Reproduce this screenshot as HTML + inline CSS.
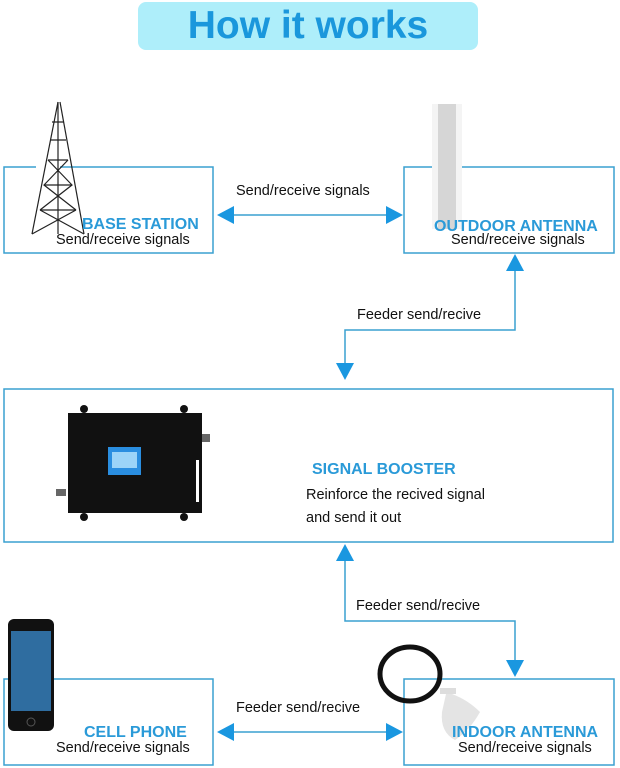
<!DOCTYPE html>
<html><head><meta charset="utf-8"><style>
body{margin:0;width:620px;height:768px;background:#fff;position:relative;overflow:hidden;font-family:"Liberation Sans",sans-serif}
.t{position:absolute;white-space:nowrap}
.bl{color:#2a9ad8;font-weight:bold;font-size:16px}
.bk{color:#111;font-size:14.5px}
</style></head><body>
<div style="position:absolute;left:138px;top:2px;width:340px;height:48px;background:#aeeefa;border-radius:8px"></div>
<div class="t" style="left:138px;top:2px;width:340px;text-align:center;font-size:39px;font-weight:bold;color:#1a97dc;line-height:48px">How it works</div>
<svg width="620" height="768" style="position:absolute;left:0;top:0">
<g fill="none" stroke="#3aa0d0" stroke-width="1.5">
<rect x="4" y="167" width="209" height="86"/>
<rect x="404" y="167" width="210" height="86"/>
<rect x="4" y="389" width="609" height="153"/>
<rect x="4" y="679" width="209" height="86"/>
<rect x="404" y="679" width="210" height="86"/>
<line x1="232" y1="215" x2="388" y2="215"/>
<polyline points="515,270 515,330 345,330 345,364"/>
<polyline points="345,558 345,621 515,621 515,662"/>
<line x1="232" y1="732" x2="388" y2="732"/>
</g>
<g fill="#1a97e0">
<polygon points="217,215 234,206 234,224"/>
<polygon points="403,215 386,206 386,224"/>
<polygon points="515,254 506,271 524,271"/>
<polygon points="345,380 336,363 354,363"/>
<polygon points="345,544 336,561 354,561"/>
<polygon points="515,677 506,660 524,660"/>
<polygon points="217,732 234,723 234,741"/>
<polygon points="403,732 386,723 386,741"/>
</g>
<!-- tower -->
<rect x="36" y="164" width="24" height="6" fill="#fff"/>
<g stroke="#222" stroke-width="1.2" fill="none">
<line x1="58" y1="102" x2="32" y2="234"/><line x1="60" y1="102" x2="84" y2="234"/>
<line x1="58" y1="102" x2="58" y2="234"/>
<path d="M48 160 L68 160 M44 185 L72 185 M40 210 L76 210 M50 140 L66 140 M52 122 L64 122"/>
<path d="M48 160 L72 185 L40 210 M68 160 L44 185 L76 210 M40 210 L84 234 M76 210 L32 234"/>
</g>
<!-- outdoor antenna -->
<rect x="432" y="104" width="30" height="125" fill="#f4f4f4"/>
<rect x="438" y="104" width="18" height="125" fill="#d6d6d6"/>
<!-- booster -->
<rect x="68" y="413" width="134" height="100" fill="#111"/>
<circle cx="84" cy="409" r="4" fill="#111"/><circle cx="184" cy="409" r="4" fill="#111"/>
<circle cx="84" cy="517" r="4" fill="#111"/><circle cx="184" cy="517" r="4" fill="#111"/>
<rect x="108" y="447" width="33" height="28" fill="#2a8ee0"/><rect x="112" y="452" width="25" height="16" fill="#9cd4f8"/>
<rect x="196" y="460" width="3" height="42" fill="#fff"/>
<rect x="202" y="434" width="8" height="8" fill="#666"/><rect x="56" y="489" width="10" height="7" fill="#666"/>
<!-- phone -->
<rect x="8" y="619" width="46" height="112" rx="6" fill="#111"/>
<rect x="11" y="631" width="40" height="80" fill="#2f6da0"/>
<circle cx="31" cy="722" r="4" fill="none" stroke="#555"/>
<!-- indoor antenna -->
<ellipse cx="410" cy="674" rx="30" ry="27" fill="none" stroke="#111" stroke-width="5"/>
<rect x="440" y="688" width="16" height="6" fill="#ddd"/>
<path d="M446 694 L452 694 Q468 700 480 712 Q470 730 455 740 Q440 732 442 712 Z" fill="#e4e4e4"/>
</svg>
<div class="t" style="left:236px;top:183px;font-size:14.5px;color:#111">Send/receive signals</div>
<div class="t bl" style="left:82px;top:216px">BASE STATION</div>
<div class="t bk" style="left:56px;top:232px">Send/receive signals</div>
<div class="t bl" style="left:434px;top:218px">OUTDOOR ANTENNA</div>
<div class="t bk" style="left:451px;top:232px">Send/receive signals</div>
<div class="t" style="left:357px;top:307px;font-size:14.5px;color:#111">Feeder send/recive</div>
<div class="t bl" style="left:312px;top:461px">SIGNAL BOOSTER</div>
<div class="t bk" style="left:306px;top:487px">Reinforce the recived signal</div>
<div class="t bk" style="left:306px;top:510px">and send it out</div>
<div class="t" style="left:356px;top:598px;font-size:14.5px;color:#111">Feeder send/recive</div>
<div class="t" style="left:236px;top:700px;font-size:14.5px;color:#111">Feeder send/recive</div>
<div class="t bl" style="left:84px;top:724px">CELL PHONE</div>
<div class="t bk" style="left:56px;top:740px">Send/receive signals</div>
<div class="t bl" style="left:452px;top:724px">INDOOR ANTENNA</div>
<div class="t bk" style="left:458px;top:740px">Send/receive signals</div>
</body></html>
